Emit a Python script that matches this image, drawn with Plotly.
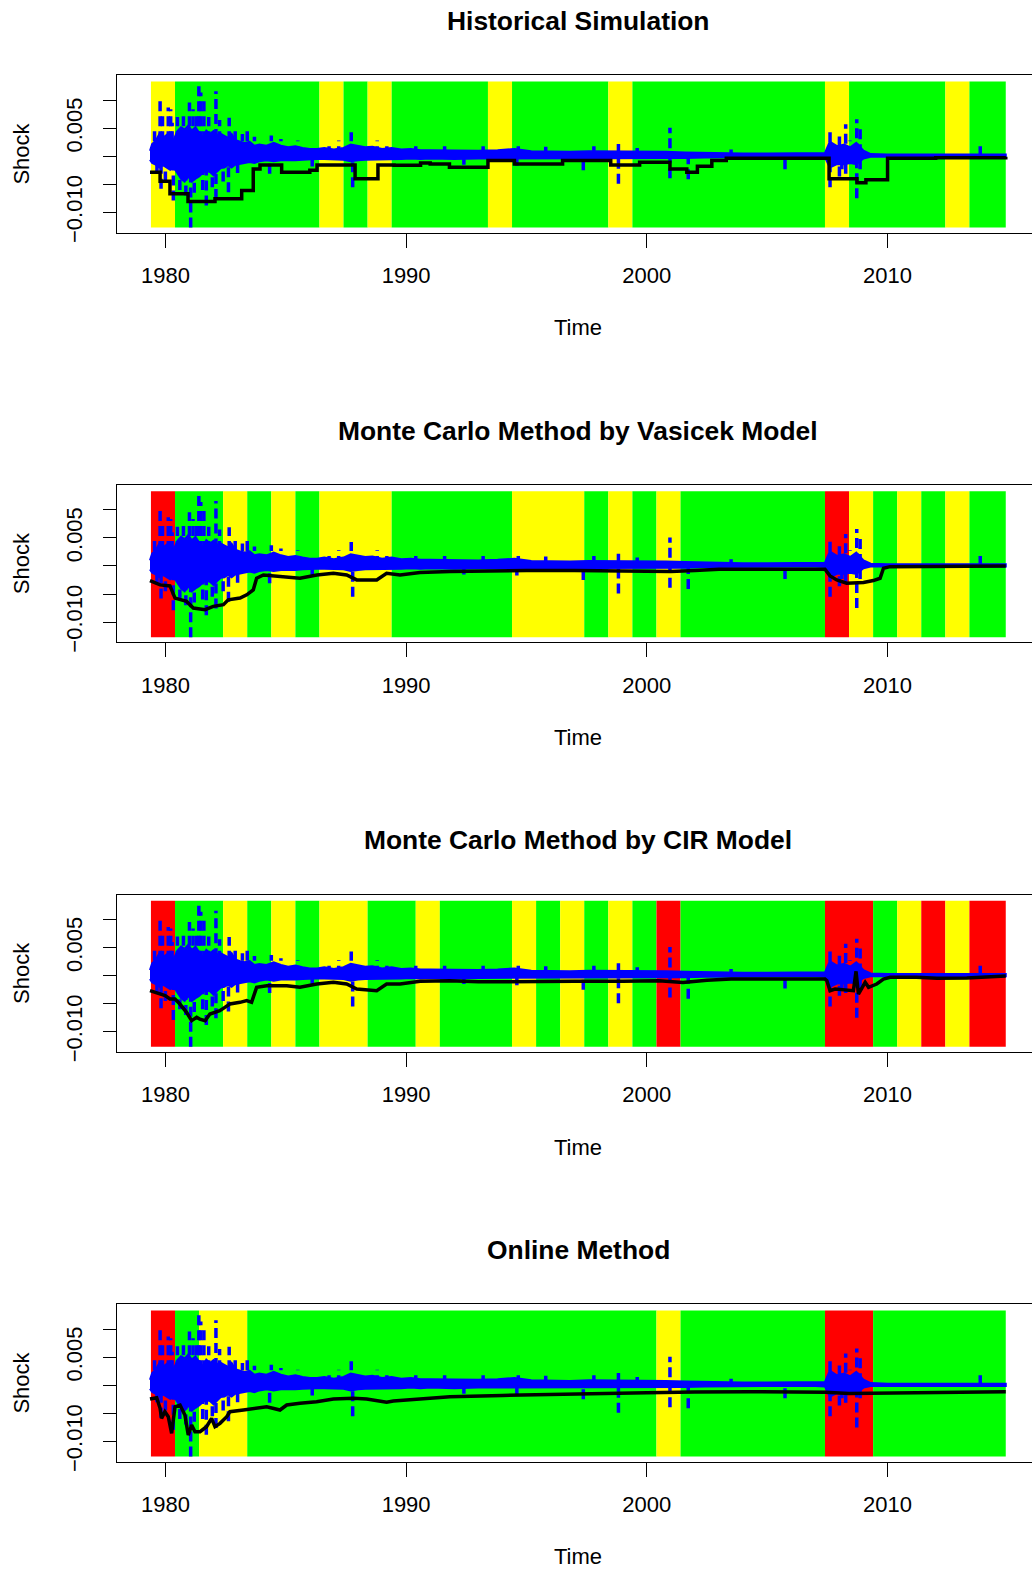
import plotly.graph_objects as go

# ---------------- data ----------------
# yearly traffic-light blocks (35 blocks starting 1979.40, last block runs to the end)
BLOCK_START = 1979.40
BLOCK_END = 2014.91
colors_hs = "YGGGGGGYGYGGGGYGGGGYGGGGGGGGYGGGGYG"
colors_vasicek = "RGGYGYGYYYGGGGGYYYGYGYGGGGGGRYGYGYG"
colors_cir = "RGGYGYGYYGGYGGGYGYGYGRGGGGGGRRGYRYR"
colors_online = "RGYYGGGGGGGGGGGGGGGGGYGGGGGGRRGGGGG"

# shock series: envelope of the dense daily band
env_t = [1979.36, 1979.45, 1979.60, 1979.75, 1979.90, 1980.05, 1980.20, 1980.35, 1980.50,
         1980.65, 1980.80, 1980.95, 1981.10, 1981.25, 1981.40, 1981.55, 1981.70, 1981.85,
         1982.00, 1982.15, 1982.30, 1982.45, 1982.60, 1982.75, 1982.90, 1983.10, 1983.30,
         1983.50, 1983.70, 1983.90, 1984.20, 1984.50, 1984.80, 1985.10, 1985.40, 1985.70,
         1986.00, 1986.30, 1986.60, 1987.00, 1987.40, 1987.70, 1988.00, 1988.30, 1988.60,
         1989.00, 1989.40, 1989.80, 1990.20, 1990.60, 1991.00, 1992.00, 1993.00, 1993.80,
         1994.50, 1995.20, 1996.00, 1996.80, 1997.60, 1998.40, 1999.20, 2000.00, 2000.80,
         2001.60, 2002.40, 2003.20, 2004.00, 2005.00, 2006.00, 2007.00, 2007.40, 2007.60,
         2007.90, 2008.20, 2008.45, 2008.70, 2009.00, 2009.30, 2010.00, 2011.00, 2012.00,
         2013.00, 2014.00, 2014.91]
env_hi = [0.0010, 0.0022, 0.0028, 0.0040, 0.0033, 0.0038, 0.0028, 0.0030, 0.0045,
          0.0052, 0.0048, 0.0055, 0.0046, 0.0052, 0.0042, 0.0034, 0.0046, 0.0040,
          0.0045, 0.0038, 0.0040, 0.0037, 0.0033, 0.0040, 0.0029, 0.0026, 0.0024,
          0.0026, 0.0019, 0.0021, 0.0019, 0.0024, 0.0019, 0.0016, 0.0018, 0.0015,
          0.0013, 0.0013, 0.0015, 0.0012, 0.0015, 0.0021, 0.0018, 0.0016, 0.0017,
          0.0013, 0.0015, 0.0012, 0.0013, 0.0011, 0.0011, 0.0010, 0.0010, 0.0011,
          0.0013, 0.0009, 0.0008, 0.0008, 0.0009, 0.0009, 0.0008, 0.0008, 0.0008,
          0.0007, 0.0006, 0.0005, 0.0005, 0.0005, 0.0005, 0.0005, 0.0006, 0.0026,
          0.0018, 0.0021, 0.0016, 0.0024, 0.0010, 0.0004, 0.0003, 0.0003, 0.0003,
          0.0003, 0.0003, 0.0003]
env_lo = [-0.0006, -0.0012, -0.0015, -0.0020, -0.0016, -0.0020, -0.0024, -0.0020, -0.0030,
          -0.0040, -0.0045, -0.0036, -0.0045, -0.0040, -0.0036, -0.0030, -0.0026, -0.0028,
          -0.0034, -0.0027, -0.0021, -0.0020, -0.0016, -0.0020, -0.0015, -0.0013, -0.0012,
          -0.0010, -0.0012, -0.0009, -0.0007, -0.0009, -0.0007, -0.0007, -0.0007, -0.0006,
          -0.0005, -0.0005, -0.0005, -0.0005, -0.0006, -0.0009, -0.0007, -0.0006, -0.0006,
          -0.0005, -0.0005, -0.0005, -0.0004, -0.0005, -0.0004, -0.0005, -0.0004, -0.0004,
          -0.0004, -0.0003, -0.0003, -0.0003, -0.0004, -0.0004, -0.0004, -0.0003, -0.0003,
          -0.0003, -0.0002, -0.0002, -0.0001, -0.0001, -0.0001, -0.0001, -0.0002, -0.0020,
          -0.0014, -0.0014, -0.0012, -0.0014, -0.0004, -0.0001, -0.0001, -0.0001, -0.0001,
          -0.0001, -0.0001, -0.0001]

# isolated large shocks (time, low, high)
spike_t = [1979.55, 1979.65, 1979.78, 1979.82, 1979.88, 1980.00, 1980.12, 1980.22, 1980.28,
           1980.33, 1980.50, 1980.60, 1980.75, 1980.85, 1981.00, 1981.05, 1981.15, 1981.20,
           1981.30, 1981.39, 1981.47, 1981.55, 1981.60, 1981.70, 1981.80, 1981.95, 1982.10,
           1982.25, 1982.40, 1982.62, 1982.65, 1982.90, 1983.00, 1983.20, 1983.40, 1983.70,
           1984.33, 1984.40, 1984.80, 1985.50, 1986.10, 1986.80, 1987.20, 1987.72, 1987.78,
           1988.80, 1989.20, 1990.40, 1991.60, 1992.40, 1993.20, 1994.60, 1994.66, 1995.80,
           1997.36, 1997.80, 1998.82, 1999.60, 2000.96, 2001.72, 2003.50, 2005.74, 2007.61,
           2008.00, 2008.10, 2008.26, 2008.44, 2008.72, 2008.86, 2013.85]
spike_lo = [0.0, -0.0030, 0.0, -0.0058, 0.0, -0.0045, 0.0, 0.0, 0.0,
            -0.0079, 0.0, -0.0060, 0.0, -0.0070, 0.0, -0.0127, 0.0, -0.0065,
            0.0, 0.0, 0.0, -0.0060, 0.0, -0.0088, 0.0, -0.0055, -0.0076,
            0.0, -0.0045, -0.0064, 0.0, 0.0, -0.0030, 0.0, 0.0, 0.0,
            -0.0031, 0.0, 0.0, 0.0, -0.0018, 0.0, 0.0, 0.0, -0.0055,
            0.0, 0.0, 0.0, 0.0, -0.0015, 0.0, -0.0017, 0.0, 0.0,
            -0.0025, 0.0, -0.0049, 0.0, -0.0039, -0.0041, 0.0, -0.0023, -0.0055,
            -0.0036, -0.0023, -0.0031, 0.0, -0.0075, -0.0023, 0.0]
spike_hi = [0.0045, 0.0, 0.0105, 0.0, 0.0075, 0.0, 0.0087, 0.0084, 0.0060,
            0.0, 0.0070, 0.0, 0.0075, 0.0, 0.0096, 0.0, 0.0084, 0.0,
            0.0080, 0.01335, 0.0114, 0.0, 0.0102, 0.0, 0.0070, 0.0, 0.0116,
            0.0065, 0.0, 0.0, 0.0069, 0.0049, 0.0, 0.0040, 0.0049, 0.0035,
            0.0, 0.0037, 0.0031, 0.0028, 0.0, 0.0025, 0.0028, 0.0043, 0.0,
            0.0028, 0.0025, 0.0022, 0.0020, 0.0, 0.0020, 0.0, 0.0026, 0.0017,
            0.0, 0.0018, 0.0022, 0.0015, 0.0051, 0.0, 0.0012, 0.0, 0.0047,
            0.0037, 0.0, 0.0057, 0.0028, 0.0066, 0.0051, 0.0025]

# VaR estimates of each method
var_hs_t = [1979.36, 1979.78, 1980.19, 1980.94, 1982.06, 1983.17, 1983.65, 1983.93, 1984.83,
            1986.00, 1986.30, 1987.88, 1988.83, 1989.50, 1990.60, 1991.00, 1991.80, 1993.40,
            1994.50, 1996.50, 1998.50, 1999.70, 2000.96, 2001.66, 2002.10, 2002.70, 2003.30,
            2007.57, 2008.73, 2009.10, 2010.00, 2012.00, 2014.91]
var_hs_v = [-0.00284, -0.00443, -0.00668, -0.00805, -0.00757, -0.00610, -0.00225, -0.00154, -0.00284,
            -0.00250, -0.00154, -0.00402, -0.00154, -0.00160, -0.00118, -0.00136, -0.00195, -0.00077,
            -0.00136, -0.00077, -0.00154, -0.00106, -0.00225, -0.00284, -0.00177, -0.00077, -0.00035,
            -0.00402, -0.00473, -0.00420, -0.00035, -0.00024, -0.00010]

var_vas_t = [1979.36, 1979.78, 1980.19, 1980.40, 1980.88, 1981.16, 1981.65, 1981.99, 1982.41,
             1982.61, 1983.10, 1983.38, 1983.65, 1983.79, 1984.07, 1984.90, 1985.59, 1986.29,
             1986.98, 1987.53, 1987.95, 1988.78, 1989.19, 1989.75, 1990.58, 1991.82, 1993.00,
             1995.00, 1997.00, 1999.00, 2001.00, 2002.00, 2003.00, 2004.29, 2007.40, 2007.61,
             2007.89, 2008.30, 2008.72, 2009.00, 2009.41, 2009.69, 2009.83, 2010.10, 2014.91]
var_vas_v = [-0.00260, -0.00337, -0.00355, -0.00573, -0.00632, -0.00750, -0.00780, -0.00721, -0.00691,
             -0.00603, -0.00573, -0.00514, -0.00426, -0.00219, -0.00160, -0.00189, -0.00219, -0.00160,
             -0.00130, -0.00160, -0.00248, -0.00248, -0.00130, -0.00160, -0.00118, -0.00100, -0.00090,
             -0.00080, -0.00080, -0.00090, -0.00100, -0.00080, -0.00060, -0.00059, -0.00059, -0.00177,
             -0.00248, -0.00307, -0.00296, -0.00296, -0.00260, -0.00219, -0.00041, -0.00012, 0.0]

var_cir_t = [1979.36, 1979.78, 1979.99, 1980.19, 1980.40, 1980.60, 1980.88, 1981.09, 1981.30,
             1981.43, 1981.65, 1981.85, 1982.06, 1982.26, 1982.47, 1982.68, 1983.10, 1983.38,
             1983.58, 1983.79, 1984.21, 1985.04, 1985.59, 1986.29, 1986.98, 1987.53, 1987.95,
             1988.78, 1989.19, 1989.75, 1990.58, 1991.82, 1993.00, 1995.00, 1997.00, 1999.00,
             2000.50, 2001.50, 2002.50, 2003.50, 2004.29, 2007.40, 2007.48, 2007.61, 2007.82,
             2008.31, 2008.58, 2008.69, 2008.79, 2009.07, 2009.21, 2009.55, 2009.83, 2010.11,
             2011.20, 2012.05, 2013.29, 2014.91]
var_cir_v = [-0.00268, -0.00327, -0.00357, -0.00417, -0.00417, -0.00506, -0.00655, -0.00803, -0.00744,
             -0.00774, -0.00803, -0.00684, -0.00655, -0.00625, -0.00565, -0.00506, -0.00476, -0.00446,
             -0.00476, -0.00208, -0.00179, -0.00179, -0.00208, -0.00149, -0.00119, -0.00149, -0.00238,
             -0.00268, -0.00149, -0.00149, -0.00101, -0.00089, -0.00110, -0.00100, -0.00100, -0.00100,
             -0.00090, -0.00120, -0.00080, -0.00060, -0.00060, -0.00060, -0.00089, -0.00268, -0.00238,
             -0.00256, -0.00268, 0.00077, -0.00327, -0.00119, -0.00208, -0.00149, -0.00060, -0.00030,
             -0.00030, -0.00048, -0.00042, -0.00006]

var_onl_t = [1979.36, 1979.64, 1979.78, 1979.84, 1979.98, 1980.12, 1980.26, 1980.40, 1980.61,
             1980.81, 1980.95, 1981.09, 1981.23, 1981.44, 1981.71, 1981.92, 1982.06, 1982.27,
             1982.55, 1982.68, 1983.24, 1983.79, 1984.21, 1984.76, 1985.04, 1985.59, 1986.28,
             1986.98, 1987.81, 1988.36, 1989.19, 1989.47, 1990.44, 1991.82, 1994.00, 1997.00,
             2000.00, 2002.00, 2004.29, 2007.40, 2008.40, 2014.91]
var_onl_v = [-0.00244, -0.00220, -0.00410, -0.00589, -0.00470, -0.00559, -0.00857, -0.00381, -0.00351,
             -0.00530, -0.00887, -0.00708, -0.00827, -0.00827, -0.00738, -0.00589, -0.00738, -0.00678,
             -0.00559, -0.00470, -0.00440, -0.00410, -0.00381, -0.00440, -0.00351, -0.00321, -0.00292,
             -0.00244, -0.00232, -0.00244, -0.00303, -0.00280, -0.00244, -0.00202, -0.00180, -0.00150,
             -0.00130, -0.00120, -0.00113, -0.00125, -0.00143, -0.00113]

panel_titles = ["Historical Simulation", "Monte Carlo Method by Vasicek Model",
                "Monte Carlo Method by CIR Model", "Online Method"]
x_ticks = [1980, 1990, 2000, 2010]
y_ticks = [-0.010, -0.005, 0.0, 0.005, 0.010]
y_ticktext = ["\u22120.010", "", "", "0.005", ""]

# ---------------- layout geometry (pixels) ----------------
W, H = 1032, 1577
PLOT_LEFT = 117
BOX_TOP = 75.7
BOX_H = 158.3
STEP = 412.3
X_RANGE = [1977.99, 2016.0]
Y_RANGE = [-0.0136, 0.01447]
FONT = "Liberation Sans, Arial, sans-serif"
PALETTE = {"R": "#FF0000", "Y": "#FFFF00", "G": "#00FF00"}

panels = [
    (colors_hs, var_hs_t, var_hs_v, "hv"),
    (colors_vasicek, var_vas_t, var_vas_v, "linear"),
    (colors_cir, var_cir_t, var_cir_v, "linear"),
    (colors_online, var_onl_t, var_onl_v, "linear"),
]

band_lo = min(min(env_lo), min(spike_lo))
band_hi = max(max(env_hi), max(spike_hi))

fig = go.Figure()
shapes = []
annotations = []

poly_x = env_t + env_t[::-1]
poly_y = env_hi + env_lo[::-1]
sx, sy = [], []
for t, lo, hi in zip(spike_t, spike_lo, spike_hi):
    sx += [t, t, None]
    sy += [lo, hi, None]


def py(pix):
    """pixel row -> paper fraction"""
    return 1 - pix / H


for i, (cols, vt, vv, shape) in enumerate(panels):
    n = i + 1
    xa = "x" if n == 1 else f"x{n}"
    ya = "y" if n == 1 else f"y{n}"
    top = BOX_TOP + STEP * i
    bottom = top + BOX_H

    # merge consecutive blocks of the same colour
    k = 0
    while k < len(cols):
        j = k
        while j + 1 < len(cols) and cols[j + 1] == cols[k]:
            j += 1
        x0 = BLOCK_START + k
        x1 = BLOCK_END if j == len(cols) - 1 else BLOCK_START + j + 1
        shapes.append(dict(type="rect", xref=xa, yref=ya, x0=x0, x1=x1,
                           y0=band_lo, y1=band_hi, fillcolor=PALETTE[cols[k]],
                           line=dict(width=0), layer="below"))
        k = j + 1

    fig.add_trace(go.Scatter(x=poly_x, y=poly_y, xaxis=xa, yaxis=ya, mode="lines",
                             fill="toself", fillcolor="#0000FF",
                             line=dict(color="#0000FF", width=2), hoverinfo="skip",
                             showlegend=False))
    fig.add_trace(go.Scatter(x=sx, y=sy, xaxis=xa, yaxis=ya, mode="lines",
                             line=dict(color="#0000FF", width=3.5, dash="10px,5px"),
                             hoverinfo="skip", showlegend=False))
    fig.add_trace(go.Scatter(x=vt, y=vv, xaxis=xa, yaxis=ya, mode="lines",
                             line=dict(color="black", width=3.5, shape=shape),
                             showlegend=False))

    common = dict(showgrid=False, zeroline=False, showline=True, linecolor="black",
                  linewidth=1.3, ticks="outside", tickcolor="black", tickwidth=1.3,
                  tickfont=dict(family=FONT, size=22, color="black"))
    fig.update_layout(**{
        ("xaxis" if n == 1 else f"xaxis{n}"): dict(
            domain=[PLOT_LEFT / W, 1.0], range=X_RANGE, anchor=ya,
            tickvals=x_ticks, ticklen=14, ticklabelstandoff=9, mirror=True, **common),
        ("yaxis" if n == 1 else f"yaxis{n}"): dict(
            domain=[py(bottom), py(top)], range=Y_RANGE, anchor=xa,
            tickvals=y_ticks, ticktext=y_ticktext, tickangle=-90, ticklen=13,
            ticklabelstandoff=12, **common),
    })

    annotations.append(dict(text=f"<b>{panel_titles[i]}</b>", xref="paper", yref="paper",
                            x=578 / W, y=py(21 + STEP * i), xanchor="center",
                            yanchor="middle", showarrow=False,
                            font=dict(family=FONT, size=26.4, color="black")))
    annotations.append(dict(text="Time", xref="paper", yref="paper",
                            x=578 / W, y=py(330 + STEP * i), xanchor="center",
                            yanchor="middle", showarrow=False,
                            font=dict(family=FONT, size=22, color="black")))
    annotations.append(dict(text="Shock", xref="paper", yref="paper", textangle=-90,
                            x=21.7 / W, y=py(top + BOX_H / 2), xanchor="center",
                            yanchor="middle", showarrow=False,
                            font=dict(family=FONT, size=22, color="black")))

fig.update_layout(width=W, height=H, margin=dict(l=0, r=0, t=0, b=0),
                  paper_bgcolor="white", plot_bgcolor="white",
                  shapes=shapes, annotations=annotations, showlegend=False)

fig.write_html("out.html")
